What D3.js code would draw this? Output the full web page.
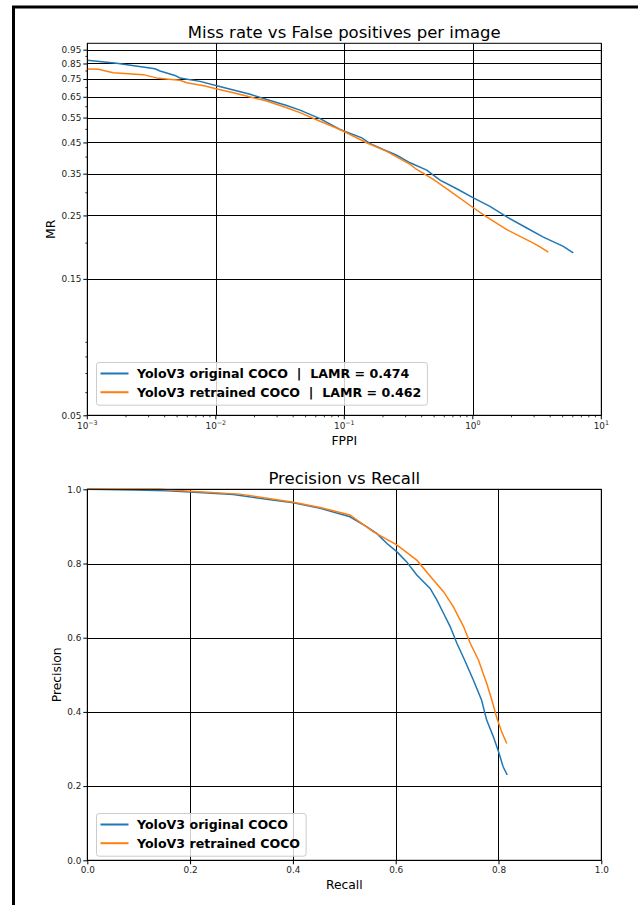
<!DOCTYPE html>
<html>
<head>
<meta charset="utf-8">
<script src="https://cdn.jsdelivr.net/npm/d3@7"></script>
<style>
  body { margin: 0; background: #fff; }
  svg { display: block; font-family: "DejaVu Sans", sans-serif; }
</style>
</head>
<body>
<svg id="chart" width="638" height="905"></svg>
<script>
// miss rate curve, original model
const fppiOriginal = [0.001, 0.00169, 0.00336, 0.00368, 0.00481, 0.00526, 0.00753, 0.01, 0.0137, 0.0185, 0.0249, 0.0356, 0.0452, 0.0647, 0.0926, 0.137, 0.159, 0.201, 0.256, 0.325, 0.438, 0.556, 0.749, 1.01, 1.36, 1.84, 2.63, 3.54, 5.06, 6.05];
const mrOriginal = [0.872, 0.851, 0.815, 0.800, 0.772, 0.756, 0.736, 0.712, 0.686, 0.663, 0.636, 0.606, 0.584, 0.545, 0.4995, 0.467, 0.446, 0.425, 0.406, 0.382, 0.360, 0.332, 0.310, 0.288, 0.269, 0.247, 0.226, 0.210, 0.195, 0.185];
// miss rate curve, retrained model
const fppiRetrained = [0.001, 0.00122, 0.00159, 0.00273, 0.00357, 0.00526, 0.00594, 0.00824, 0.01, 0.0137, 0.0196, 0.0249, 0.0356, 0.0452, 0.0647, 0.0926, 0.149, 0.214, 0.325, 0.366, 0.493, 0.665, 1.01, 1.28, 1.84, 2.96, 3.33, 3.87];
const mrRetrained = [0.813, 0.811, 0.789, 0.777, 0.754, 0.742, 0.728, 0.709, 0.694, 0.672, 0.645, 0.628, 0.595, 0.572, 0.534, 0.4995, 0.449, 0.419, 0.377, 0.362, 0.334, 0.304, 0.266, 0.247, 0.223, 0.200, 0.194, 0.186];

// precision / recall
const recallOriginal = [0, 0.09, 0.155, 0.2, 0.284, 0.349, 0.401, 0.453, 0.511, 0.544, 0.563, 0.583, 0.602, 0.621, 0.641, 0.667, 0.680, 0.693, 0.706, 0.719, 0.734, 0.751, 0.767, 0.777, 0.790, 0.800, 0.809, 0.817];
const precisionOriginal = [1.0, 0.998, 0.996, 0.993, 0.986, 0.973, 0.964, 0.949, 0.926, 0.899, 0.881, 0.854, 0.832, 0.805, 0.769, 0.733, 0.702, 0.666, 0.630, 0.585, 0.540, 0.486, 0.432, 0.378, 0.333, 0.293, 0.252, 0.230];
const recallRetrained = [0, 0.141, 0.2, 0.297, 0.401, 0.453, 0.511, 0.556, 0.602, 0.641, 0.673, 0.693, 0.712, 0.732, 0.745, 0.761, 0.770, 0.777, 0.787, 0.797, 0.806, 0.816];
const precisionRetrained = [1.0, 1.0, 0.995, 0.987, 0.965, 0.951, 0.931, 0.886, 0.850, 0.809, 0.756, 0.724, 0.684, 0.630, 0.585, 0.540, 0.504, 0.477, 0.432, 0.383, 0.347, 0.315];

const mrTicks = [0.05, 0.15, 0.25, 0.35, 0.45, 0.55, 0.65, 0.75, 0.85, 0.95];
const fppiExponents = [-3, -2, -1, 0, 1];
const prTicks = [0, 0.2, 0.4, 0.6, 0.8, 1.0];

const legendTop = ['YoloV3 original COCO  |  LAMR = 0.474', 'YoloV3 retrained COCO  |  LAMR = 0.462'];
const legendBottom = ['YoloV3 original COCO', 'YoloV3 retrained COCO'];
const colors = ['#1f77b4', '#ff7f0e'];

const svg = d3.select('#chart');
svg.append('rect').attr('width', 638).attr('height', 905).attr('fill', '#fff');

// frame of the screenshot
svg.append('path')
    .attr('d', 'M13.5,905 V7 H638')
    .attr('fill', 'none')
    .attr('stroke', '#000')
    .attr('stroke-width', 3);

const left = 87.3, right = 601.3;

function drawLegend(g, labels, x0, y0, rowH) {
    const box = g.append('rect');
    let maxW = 0;
    labels.forEach((lab, i) => {
        const y = y0 + 11 + i * rowH;
        g.append('line')
            .attr('x1', x0 + 4).attr('x2', x0 + 32)
            .attr('y1', y).attr('y2', y)
            .attr('stroke', colors[i]).attr('stroke-width', 2);
        const t = g.append('text')
            .attr('x', x0 + 40.5).attr('y', y + 4.6)
            .attr('font-size', 12.6)
            .attr('font-weight', 'bold')
            .attr('fill', '#000')
            .attr('xml:space', 'preserve')
            .style('white-space', 'pre')
            .text(lab);
        maxW = Math.max(maxW, t.node().getComputedTextLength());
    });
    box.attr('x', x0).attr('y', y0)
        .attr('width', 40.5 + maxW + 6)
        .attr('height', 11 + rowH + 13)
        .attr('rx', 2.5)
        .attr('fill', '#fff').attr('fill-opacity', 0.8)
        .attr('stroke', '#cccccc').attr('stroke-width', 1);
}

// ---------- top: miss rate vs FPPI ----------
{
    const top = 43.3, bottom = 415.3;
    const x = d3.scaleLog().domain([1e-3, 10]).range([left, right]);
    const y = d3.scaleLog().domain([0.05, 1]).range([bottom, top]);
    const g = svg.append('g');

    const px = v => Math.round(v) + 0.5;

    // grid
    fppiExponents.forEach(e => {
        g.append('line').attr('x1', px(x(Math.pow(10, e)))).attr('x2', px(x(Math.pow(10, e))))
            .attr('y1', top).attr('y2', bottom).attr('stroke', '#000').attr('stroke-width', 1);
    });
    mrTicks.forEach(v => {
        g.append('line').attr('x1', left).attr('x2', right)
            .attr('y1', px(y(v))).attr('y2', px(y(v))).attr('stroke', '#000').attr('stroke-width', 1);
    });

    // curves
    const series = [[fppiOriginal, mrOriginal], [fppiRetrained, mrRetrained]];
    series.forEach((s, i) => {
        const pts = s[0].map((f, j) => [f, s[1][j]]);
        g.append('path')
            .datum(pts)
            .attr('fill', 'none')
            .attr('stroke', colors[i])
            .attr('stroke-width', 1.5)
            .attr('d', d3.line().x(d => x(d[0])).y(d => y(d[1])));
    });

    // spines
    g.append('rect').attr('x', left).attr('y', top)
        .attr('width', right - left).attr('height', bottom - top)
        .attr('fill', 'none').attr('stroke', '#000').attr('stroke-width', 1);

    // y axis
    const yAxis = g.append('g').attr('transform', `translate(${left},0)`)
        .call(d3.axisLeft(y).tickValues(mrTicks).tickSize(4).tickPadding(2).tickFormat(d3.format('.2f')));
    yAxis.select('.domain').remove();
    yAxis.selectAll('text').attr('font-size', 8.9).attr('fill', '#222').attr('font-family', 'DejaVu Sans');

    const minorY = [];
    [0.01, 0.1].forEach(d => d3.range(2, 10).forEach(k => {
        const v = +(k * d).toFixed(3);
        if (v > 0.05 && v < 1 && !mrTicks.includes(v)) minorY.push(v);
    }));
    minorY.forEach(v => {
        g.append('line').attr('x1', left - 2).attr('x2', left)
            .attr('y1', y(v)).attr('y2', y(v)).attr('stroke', '#000').attr('stroke-width', 0.8);
    });

    // x axis
    fppiExponents.forEach(e => {
        const xv = x(Math.pow(10, e));
        g.append('line').attr('x1', xv).attr('x2', xv)
            .attr('y1', bottom).attr('y2', bottom + 4).attr('stroke', '#000').attr('stroke-width', 1);
        const t = g.append('text').attr('x', xv).attr('y', 429)
            .attr('text-anchor', 'middle').attr('font-size', 8.9).attr('fill', '#222');
        t.append('tspan').text('10');
        t.append('tspan').attr('dy', -4).attr('font-size', 6.3).text(e < 0 ? '\u2212' + (-e) : String(e));
    });
    fppiExponents.slice(0, -1).forEach(e => d3.range(2, 10).forEach(k => {
        const xv = x(k * Math.pow(10, e));
        g.append('line').attr('x1', xv).attr('x2', xv)
            .attr('y1', bottom).attr('y2', bottom + 2).attr('stroke', '#000').attr('stroke-width', 0.8);
    }));

    // labels
    svg.append('text').attr('x', (left + right) / 2).attr('y', 38)
        .attr('text-anchor', 'middle').attr('font-size', 16.5).attr('fill', '#000')
        .text('Miss rate vs False positives per image');
    svg.append('text').attr('x', (left + right) / 2).attr('y', 445)
        .attr('text-anchor', 'middle').attr('font-size', 12.3).attr('fill', '#000')
        .text('FPPI');
    svg.append('text').attr('transform', `translate(55,${(top + bottom) / 2}) rotate(-90)`)
        .attr('text-anchor', 'middle').attr('font-size', 12.3).attr('fill', '#000')
        .text('MR');

    drawLegend(svg.append('g'), legendTop, 96.5, 362.5, 18.7);
}

// ---------- bottom: precision vs recall ----------
{
    const top = 489.3, bottom = 860.3;
    const x = d3.scaleLinear().domain([0, 1]).range([left, right]);
    const y = d3.scaleLinear().domain([0, 1]).range([bottom, top]);
    const g = svg.append('g');
    const px = v => Math.round(v) + 0.5;

    prTicks.forEach(v => {
        g.append('line').attr('x1', px(x(v))).attr('x2', px(x(v)))
            .attr('y1', top).attr('y2', bottom).attr('stroke', '#000').attr('stroke-width', 1);
        g.append('line').attr('x1', left).attr('x2', right)
            .attr('y1', px(y(v))).attr('y2', px(y(v))).attr('stroke', '#000').attr('stroke-width', 1);
    });

    const series = [[recallOriginal, precisionOriginal], [recallRetrained, precisionRetrained]];
    series.forEach((s, i) => {
        const pts = s[0].map((r, j) => [r, s[1][j]]);
        g.append('path')
            .datum(pts)
            .attr('fill', 'none')
            .attr('stroke', colors[i])
            .attr('stroke-width', 1.5)
            .attr('d', d3.line().x(d => x(d[0])).y(d => y(d[1])));
    });

    g.append('rect').attr('x', left).attr('y', top)
        .attr('width', right - left).attr('height', bottom - top)
        .attr('fill', 'none').attr('stroke', '#000').attr('stroke-width', 1);

    const yAxis = g.append('g').attr('transform', `translate(${left},0)`)
        .call(d3.axisLeft(y).tickValues(prTicks).tickSize(4).tickPadding(2).tickFormat(d3.format('.1f')));
    yAxis.select('.domain').remove();
    yAxis.selectAll('text').attr('font-size', 8.9).attr('fill', '#222').attr('font-family', 'DejaVu Sans');

    const xAxis = g.append('g').attr('transform', `translate(0,${bottom})`)
        .call(d3.axisBottom(x).tickValues(prTicks).tickSize(4).tickPadding(2).tickFormat(d3.format('.1f')));
    xAxis.select('.domain').remove();
    xAxis.selectAll('text').attr('font-size', 8.9).attr('fill', '#222').attr('font-family', 'DejaVu Sans');

    svg.append('text').attr('x', (left + right) / 2).attr('y', 484)
        .attr('text-anchor', 'middle').attr('font-size', 16.5).attr('fill', '#000')
        .text('Precision vs Recall');
    svg.append('text').attr('x', (left + right) / 2).attr('y', 889)
        .attr('text-anchor', 'middle').attr('font-size', 12.3).attr('fill', '#000')
        .text('Recall');
    svg.append('text').attr('transform', `translate(61,${(top + bottom) / 2}) rotate(-90)`)
        .attr('text-anchor', 'middle').attr('font-size', 12.3).attr('fill', '#000')
        .text('Precision');

    drawLegend(svg.append('g'), legendBottom, 96.5, 813.5, 18.7);
}
</script>
</body>
</html>
